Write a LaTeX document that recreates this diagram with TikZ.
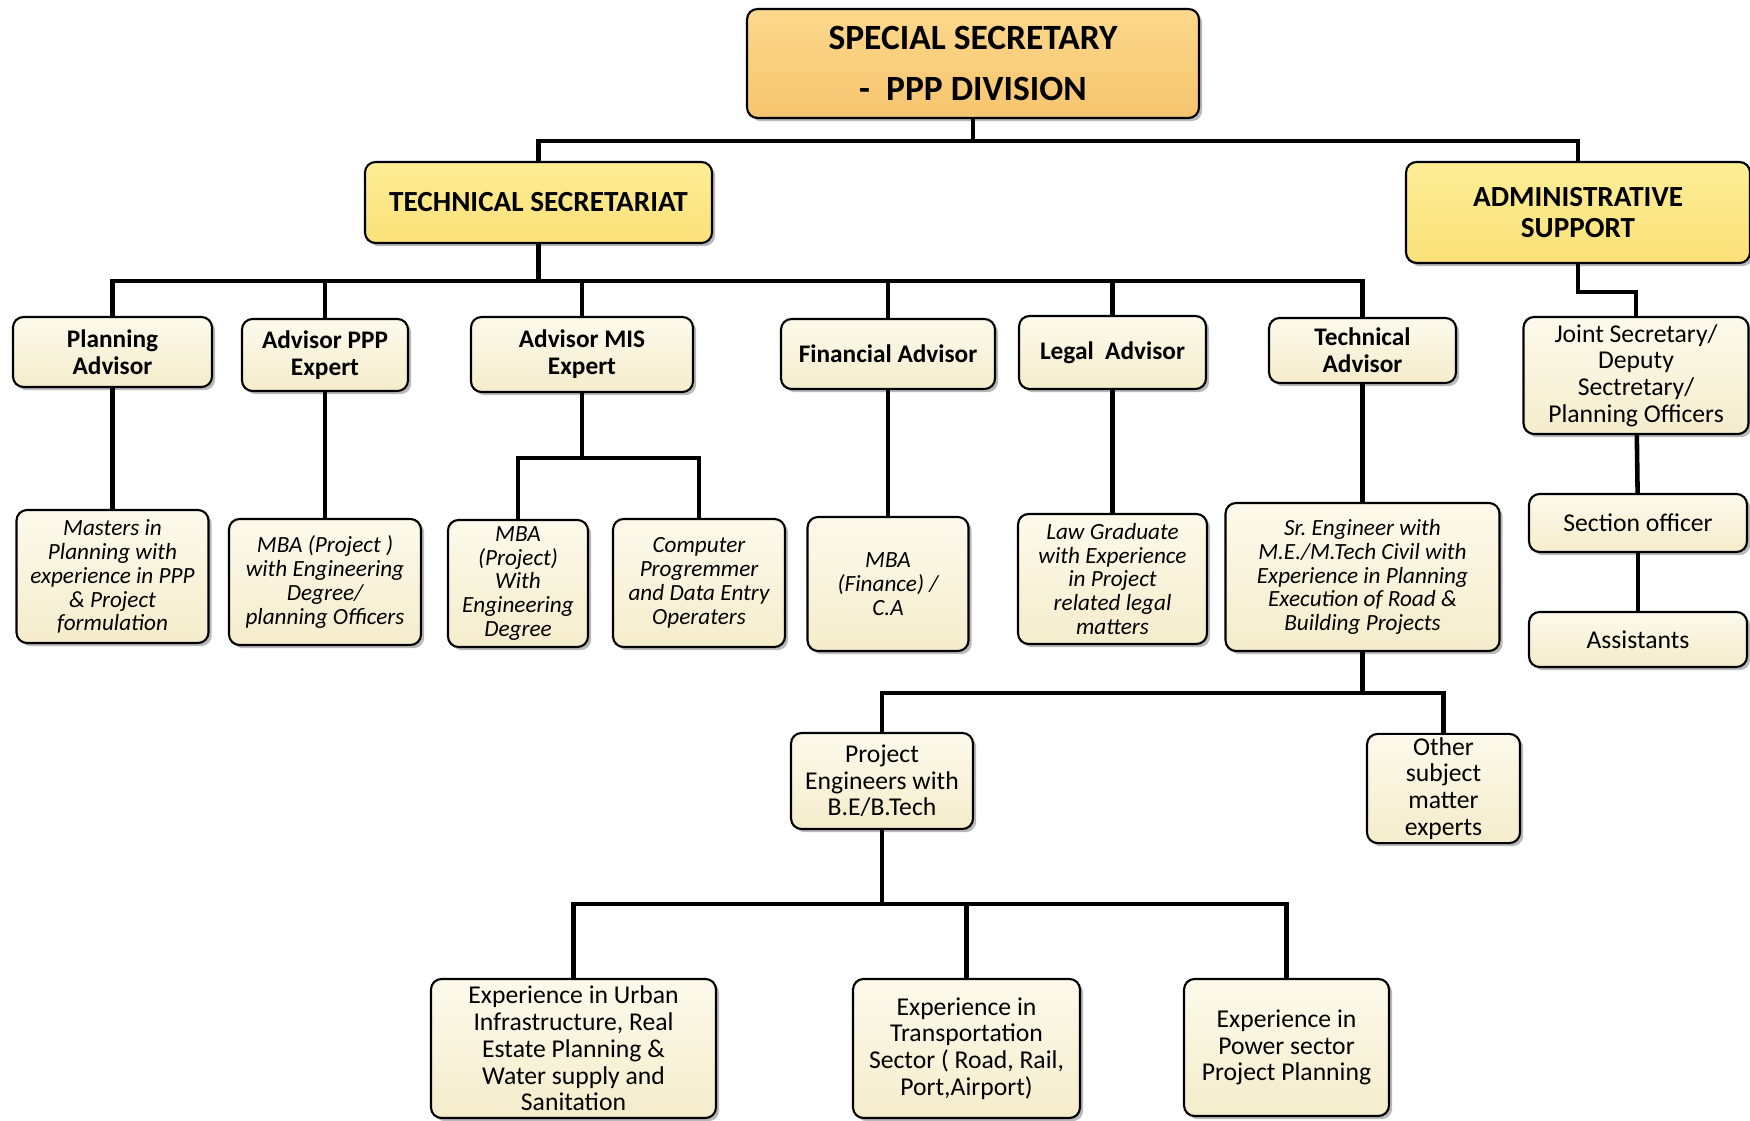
\documentclass[tikz,border=0pt]{standalone}
\usepackage{fontspec}
\setmainfont{Carlito}
\usepackage{tikz}
\usetikzlibrary{shadows}

\definecolor{cream}{RGB}{244,236,203}
\definecolor{creamtop}{RGB}{253,250,236}
\definecolor{gold}{RGB}{246,196,110}
\definecolor{goldtop}{RGB}{253,216,140}
\definecolor{lemon}{RGB}{250,224,120}
\definecolor{lemontop}{RGB}{254,238,150}

\begin{document}
\frenchspacing
\begin{tikzpicture}[
    box/.style={draw=black, line width=0.6pt, rounded corners=3pt, align=center, inner sep=1pt,
      drop shadow={opacity=0.55, shadow xshift=0.9pt, shadow yshift=-0.9pt}},
    headbox/.style={box, top color=goldtop, bottom color=gold, font=\fontsize{10.1}{14.7}\selectfont\bfseries},
    secbox/.style={box, top color=lemontop, bottom color=lemon, font=\fontsize{8.3}{8.6}\selectfont\bfseries},
    advbox/.style={box, top color=creamtop, bottom color=cream, font=\fontsize{7.2}{7.7}\selectfont\bfseries},
    qualbox/.style={box, top color=creamtop, bottom color=cream, font=\fontsize{6.6}{6.8}\selectfont\itshape},
    plainbox/.style={box, top color=creamtop, bottom color=cream, font=\fontsize{7.3}{7.6}\selectfont},
    link/.style={line width=1.3pt}
  ]
  \useasboundingbox (0,0) rectangle (17.5,-11.21);

  % Topo
  \node[headbox, minimum width=4.52cm, minimum height=1.09cm] (sec) at (9.73,-0.635) {SPECIAL SECRETARY\\-\ \ PPP DIVISION};
  \node[secbox, minimum width=3.47cm, minimum height=0.81cm] (ts) at (5.385,-2.025) {TECHNICAL SECRETARIAT};
  \node[secbox, minimum width=3.44cm, minimum height=1.01cm] (adm) at (15.78,-2.125) {ADMINISTRATIVE\\SUPPORT};

  % Advisors
  \node[advbox, minimum width=1.99cm, minimum height=0.70cm] (pa) at (1.125,-3.52) {Planning\\Advisor};
  \node[advbox, minimum width=1.66cm, minimum height=0.72cm] (ppp) at (3.25,-3.55) {Advisor PPP\\Expert};
  \node[advbox, minimum width=2.22cm, minimum height=0.75cm] (mis) at (5.82,-3.545) {Advisor MIS\\Expert};
  \node[advbox, minimum width=2.14cm, minimum height=0.70cm] (fin) at (8.88,-3.54) {Financial Advisor};
  \node[advbox, minimum width=1.87cm, minimum height=0.73cm] (leg) at (11.125,-3.525) {Legal\ \ Advisor};
  \node[advbox, minimum width=1.87cm, minimum height=0.65cm] (tec) at (13.625,-3.505) {Technical\\Advisor};

  % Qualificacoes
  \node[qualbox, minimum width=1.92cm, minimum height=1.33cm] (mpl) at (1.125,-5.765) {Masters in\\Planning with\\experience in PPP\\\& Project\\formulation};
  \node[qualbox, minimum width=1.92cm, minimum height=1.26cm] (mbp) at (3.25,-5.82) {MBA (Project )\\with Engineering\\Degree/\\planning Officers};
  \node[qualbox, minimum width=1.40cm, minimum height=1.27cm] (mbm) at (5.18,-5.835) {MBA\\(Project)\\With\\Engineering\\Degree};
  \node[qualbox, minimum width=1.72cm, minimum height=1.28cm] (cpd) at (6.99,-5.83) {Computer\\Progremmer\\and Data Entry\\Operaters};
  \node[qualbox, minimum width=1.61cm, minimum height=1.34cm] (mbf) at (8.88,-5.84) {MBA\\(Finance) /\\C.A};
  \node[qualbox, minimum width=1.89cm, minimum height=1.30cm] (law) at (11.125,-5.79) {Law Graduate\\with Experience\\in Project\\related legal\\matters};
  \node[qualbox, minimum width=2.74cm, minimum height=1.48cm] (sre) at (13.625,-5.77) {Sr. Engineer with\\M.E./M.Tech Civil with\\Experience in Planning\\Execution of Road \&\\Building Projects};

  \node[plainbox, minimum width=1.82cm, minimum height=0.96cm] (pe) at (8.82,-7.81) {Project\\Engineers with\\B.E/B.Tech};
  \node[plainbox, minimum width=1.53cm, minimum height=1.09cm] (oth) at (14.435,-7.885) {Other\\subject\\matter\\experts};

  \node[plainbox, minimum width=2.85cm, minimum height=1.39cm] (urb) at (5.735,-10.485) {Experience in Urban\\Infrastructure, Real\\Estate Planning \&\\Water supply and\\Sanitation};
  \node[plainbox, minimum width=2.27cm, minimum height=1.39cm] (trn) at (9.665,-10.485) {Experience in\\Transportation\\Sector ( Road, Rail,\\Port,Airport)};
  \node[plainbox, minimum width=2.05cm, minimum height=1.37cm] (pow) at (12.865,-10.475) {Experience in\\Power sector\\Project Planning};

  % Administrativo
  \node[plainbox, minimum width=2.25cm, minimum height=1.17cm] (js) at (16.36,-3.755) {Joint Secretary/\\Deputy\\Sectretary/\\Planning Officers};
  \node[plainbox, minimum width=2.18cm, minimum height=0.58cm] (so) at (16.38,-5.23) {Section officer};
  \node[plainbox, minimum width=2.18cm, minimum height=0.55cm] (as) at (16.38,-6.395) {Assistants};

  \coordinate (busTop) at (0,-1.41);
  \coordinate (busTs) at (0,-2.81);
  \coordinate (busMis) at (0,-4.58);
  \coordinate (busSre) at (0,-6.93);
  \coordinate (busPe) at (0,-9.04);
  \coordinate (admJog) at (0,-2.92);

  \draw[link] (sec.south) -- (sec.south |- busTop) -| (ts.north);
  \draw[link] (sec.south |- busTop) -| (adm.north);

  \draw[link] (ts.south) -- (ts.south |- busTs);
  \foreach \a in {pa,ppp,mis,fin,leg,tec}
    \draw[link] (ts.south |- busTs) -| (\a.north);

  \draw[link] (pa) -- (mpl);
  \draw[link] (ppp) -- (mbp);
  \draw[link] (fin) -- (mbf);
  \draw[link] (leg) -- (law);
  \draw[link] (tec) -- (sre);

  \draw[link] (mis.south) -- (mis.south |- busMis);
  \draw[link] (mis.south |- busMis) -| (mbm.north);
  \draw[link] (mis.south |- busMis) -| (cpd.north);

  \draw[link] (sre.south) -- (sre.south |- busSre);
  \draw[link] (sre.south |- busSre) -| (pe.north);
  \draw[link] (sre.south |- busSre) -| (oth.north);

  \draw[link] (pe.south) -- (pe.south |- busPe);
  \foreach \b in {urb,trn,pow}
    \draw[link] (pe.south |- busPe) -| (\b.north);

  \draw[link] (adm.south) -- (adm.south |- admJog) -| (js.north);
  \draw[link] (js) -- (so);
  \draw[link] (so) -- (as);
\end{tikzpicture}
\end{document}
